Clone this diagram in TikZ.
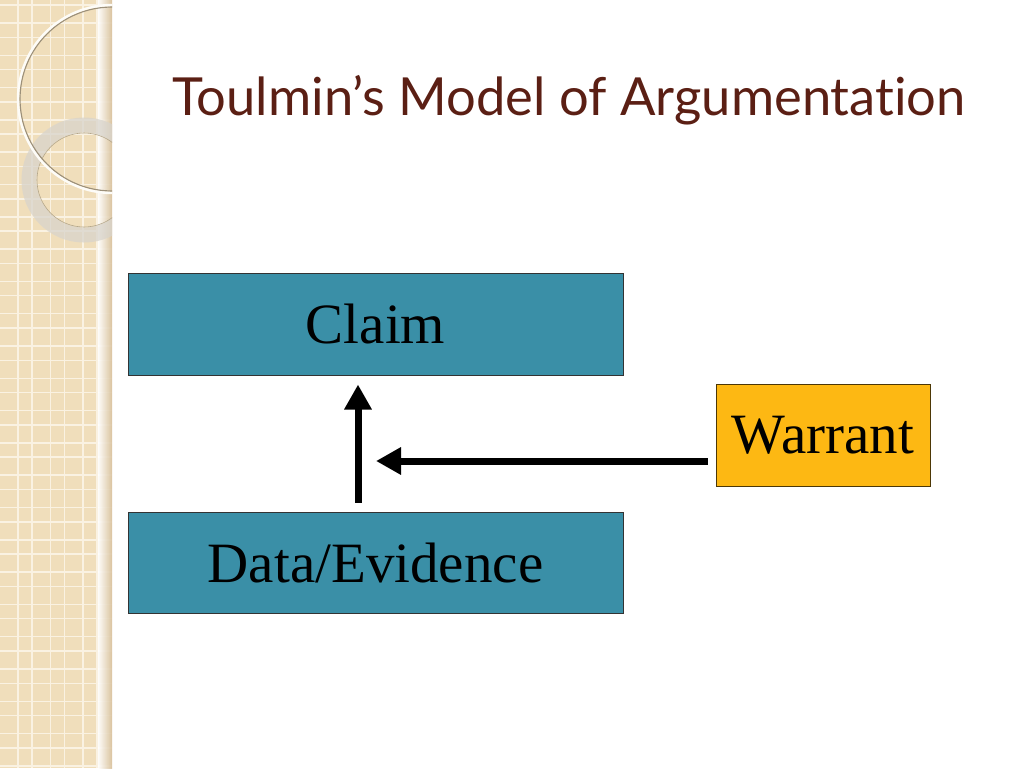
\documentclass[tikz,border=0pt]{standalone}
\usepackage{fontspec}
\setmainfont{Liberation Serif}
\newfontfamily\titlefont[Ligatures=NoCommon]{Lato}
\usetikzlibrary{arrows.meta}

\definecolor{strip}{HTML}{F0DEBB}
\definecolor{stripline}{HTML}{FAF2E2}
\definecolor{stripedge}{HTML}{D8C19C}
\definecolor{ringgray}{HTML}{D8D4CC}
\definecolor{titlebrown}{HTML}{5B1F14}
\definecolor{tealbox}{HTML}{3A8FA7}
\definecolor{goldbox}{HTML}{FDB813}

\tikzset{
  box/.style={draw=black!80, line width=1pt, inner sep=0pt, font=\fontsize{57}{60}\selectfont},
  flow/.style={line width=7pt, -{Triangle[length=25pt,width=26pt]}}
}

\begin{document}
\begin{tikzpicture}[x=1pt,y=-1pt]

  \useasboundingbox (0,0) rectangle (1024,768);
  \fill[white] (0,0) rectangle (1024,768);

  % side strip
  \fill[strip] (0,0) rectangle (112,768);
  \begin{scope}
    \clip (0,0) rectangle (112,768);
    \foreach \k in {0,...,24} {
      \draw[stripline, line width=1.5pt] (0,{32.3*\k+5}) -- (112,{32.3*\k+5});
      \draw[stripline, line width=1.5pt] (0,{32.3*\k+23}) -- (112,{32.3*\k+23});
    }
    \foreach \k in {0,...,3} {
      \draw[stripline, line width=1.5pt] ({32.5*\k+18},0) -- ({32.5*\k+18},768);
      \draw[stripline, line width=1.5pt] ({32.5*\k+32},0) -- ({32.5*\k+32},768);
    }
    \shade[left color=strip!0, right color=stripedge, opacity=0.9] (98,0) rectangle (112,768);
    \draw[ringgray, opacity=0.75, line width=15pt] (84,180) circle[radius=55];
    \draw[black!25!strip, line width=0.6pt] (84,180) circle[radius=47];
    \draw[black!35!strip, line width=1.2pt] (112,99) circle[radius=92];
    \draw[white!90!strip, line width=2.4pt] (112,99) circle[radius=94];
  \end{scope}

  \node[titlebrown, anchor=base west, inner sep=0pt, font=\titlefont\fontsize{52.5}{56}\selectfont] at (172,115) (title) {Toulmin’s Model of Argumentation};

  \node[box, fill=tealbox, minimum width=495pt, minimum height=102pt] at (375.5,324) (claim) {Claim};
  \node[box, fill=tealbox, minimum width=495pt, minimum height=101pt] at (375.5,562.5) (data) {Data/Evidence};
  \node[box, fill=goldbox, draw=black!70!goldbox, minimum width=214pt, minimum height=102pt] at (823,435) (warrant) {Warrant};

  \coordinate (meet) at (358,461);

  \draw[flow, shorten <=9pt, shorten >=9pt] (data.north -| meet) -- (claim.south -| meet);
  \draw[flow, shorten <=8pt, shorten >=18pt] (warrant.west |- meet) -- (meet);

\end{tikzpicture}
\end{document}
